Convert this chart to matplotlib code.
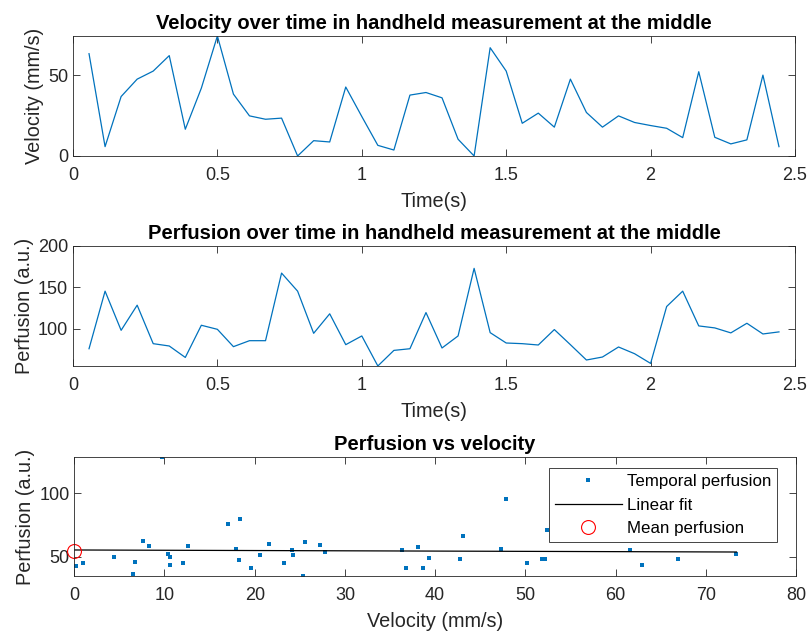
import matplotlib
matplotlib.use("Agg")
import matplotlib.pyplot as plt
import numpy as np

plt.rcParams['font.family'] = ['Liberation Sans', 'DejaVu Sans']

# velocity (mm/s) and perfusion (a.u.) per frame, 18 frames per second
velocity = [63.5, 5.8, 36.9, 47.7, 52.7, 62.3, 16.6, 42.1, 74.5, 38.4,
            24.9, 22.8, 23.5, 0.0, 9.5, 8.7, 42.8, 24.5, 6.6, 3.7,
            37.8, 39.4, 36.1, 10.4, 0.0, 67.2, 52.7, 20.3, 26.6, 17.9,
            47.7, 27.0, 17.9, 24.9, 20.8, 18.9, 17.2, 11.4, 52.3, 11.6,
            7.5, 10.0, 50.2, 5.8]
perfusion = [76.1, 145.5, 98.3, 128.6, 82.2, 79.4, 65.6, 104.4, 99.5, 78.6,
             85.8, 85.8, 167.3, 145.5, 94.7, 118.2, 81.0, 91.5, 55.3, 74.1,
             76.1, 119.7, 77.0, 91.5, 173.0, 95.5, 83.0, 82.2, 80.6, 99.2,
             81.0, 62.5, 66.1, 78.2, 70.1, 58.4, 127.0, 145.5, 103.6, 101.2,
             95.2, 106.8, 93.9, 96.4]
frame_rate = 18

# scatter: temporal perfusion vs velocity
sc_vel = [0.15, 1.0, 4.4, 6.7, 6.5, 7.6, 8.3, 9.7, 10.35, 10.6,
          10.6, 12.0, 12.6, 17.0, 17.9, 18.4, 18.3, 19.6, 20.6, 21.6,
          23.3, 24.1, 24.2, 25.3, 25.6, 27.2, 27.8, 36.3, 36.8, 38.1,
          38.6, 39.3, 42.8, 43.1, 47.3, 47.9, 50.2, 51.8, 52.2, 52.4,
          61.6, 62.9, 66.9, 73.4]
sc_perf = [42.9, 44.8, 50.0, 45.8, 36.1, 62.4, 58.5, 128.4, 51.9, 50.0,
           43.7, 44.8, 58.5, 75.6, 56.1, 79.7, 47.4, 41.3, 51.3, 59.8,
           44.8, 55.1, 51.6, 34.8, 61.4, 59.0, 54.0, 55.1, 41.3, 57.4,
           41.3, 48.7, 48.4, 66.6, 56.3, 95.8, 45.3, 48.0, 48.0, 71.0,
           55.5, 43.4, 48.2, 51.9]
fit_vel = [0.0, 73.4]
fit_perf = [55.3, 53.7]
mean_vel = 0.0
mean_perf = 54.5

blue = '#0072BD'
axcol = '#262626'
fs_tick = 13
fs_lab = 14.3
fs_title = 14.5
fs_leg = 12.2

t = np.arange(1, len(velocity) + 1) / frame_rate

fig = plt.figure(figsize=(8.1, 6.31), dpi=100)
ax1 = fig.add_axes([0.0901, 0.7528, 0.8914, 0.1902])
ax2 = fig.add_axes([0.0901, 0.4200, 0.8914, 0.1902])
ax3 = fig.add_axes([0.0917, 0.0872, 0.8910, 0.1881])

for ax in (ax1, ax2, ax3):
    ax.tick_params(direction='in', top=True, right=True, length=5, width=0.6,
                   colors=axcol, labelsize=fs_tick)
    ax.tick_params(axis='x', pad=8)
    ax.tick_params(axis='y', pad=3.5)
    for s in ax.spines.values():
        s.set_color(axcol)
        s.set_linewidth(0.6)

ax1.plot(t, velocity, color=blue, lw=0.9)
ax1.set_xlim(0, 2.5)
ax1.set_ylim(min(velocity), max(velocity))
ax1.set_xticks([0, 0.5, 1, 1.5, 2, 2.5])
ax1.set_xticklabels(['0', '0.5', '1', '1.5', '2', '2.5'])
ax1.set_yticks([0, 50])
ax1.set_xlabel('Time(s)', fontsize=fs_lab, color=axcol, labelpad=6)
ax1.set_ylabel('Velocity (mm/s)', fontsize=fs_lab, color=axcol, labelpad=3)
ax1.set_title('Velocity over time in handheld measurement at the middle',
              fontsize=fs_title, fontweight='bold', pad=5)

ax2.plot(t, perfusion, color=blue, lw=0.9)
ax2.set_xlim(0, 2.5)
ax2.set_ylim(min(perfusion), 200)
ax2.set_xticks([0, 0.5, 1, 1.5, 2, 2.5])
ax2.set_xticklabels(['0', '0.5', '1', '1.5', '2', '2.5'])
ax2.set_yticks([100, 150, 200])
ax2.set_xlabel('Time(s)', fontsize=fs_lab, color=axcol, labelpad=6)
ax2.set_ylabel('Perfusion (a.u.)', fontsize=fs_lab, color=axcol, labelpad=3)
ax2.set_title('Perfusion over time in handheld measurement at the middle',
              fontsize=fs_title, fontweight='bold', pad=5)

ax3.plot(sc_vel, sc_perf, 's', color=blue, ms=3, mew=0, label='Temporal perfusion')
ax3.plot(fit_vel, fit_perf, '-', color='black', lw=0.9, label='Linear fit')
ax3.plot(mean_vel, mean_perf, 'o', mfc='none', mec='red', ms=10, mew=0.8,
         label='Mean perfusion', clip_on=False)
ax3.set_xlim(0, 80)
ax3.set_ylim(min(sc_perf), max(sc_perf))
ax3.set_xticks(range(0, 81, 10))
ax3.set_yticks([50, 100])
ax3.set_xlabel('Velocity (mm/s)', fontsize=fs_lab, color=axcol, labelpad=6)
ax3.set_ylabel('Perfusion (a.u.)', fontsize=fs_lab, color=axcol, labelpad=3)
ax3.set_title('Perfusion vs velocity', fontsize=fs_title, fontweight='bold', pad=5)
leg = ax3.legend(loc='upper right', bbox_to_anchor=(0.974, 0.907), fontsize=fs_leg,
                 fancybox=False, framealpha=1, edgecolor=axcol, borderaxespad=0,
                 handlelength=3.96, handletextpad=0.3, labelspacing=0.5,
                 borderpad=0.35)
leg.get_frame().set_linewidth(0.6)

fig.savefig('out.png', dpi=100)
